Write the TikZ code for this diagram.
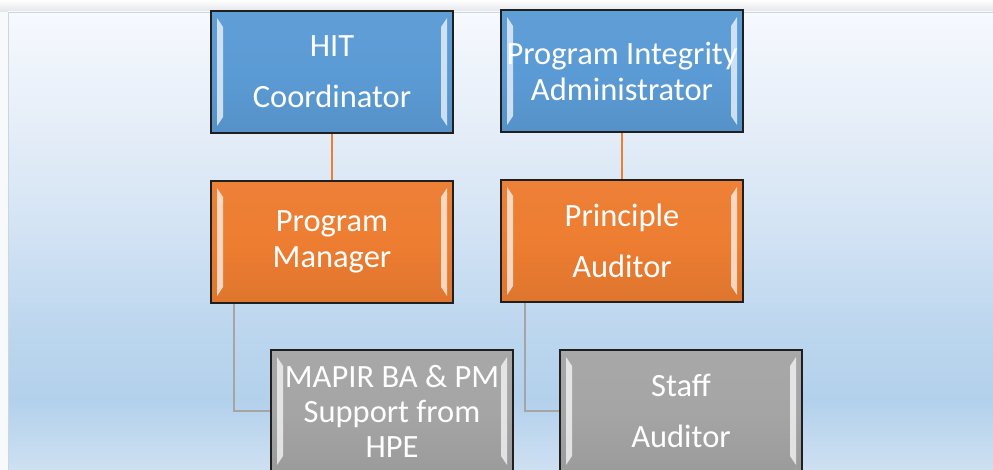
\documentclass[tikz,border=0pt]{standalone}
\usepackage{fontspec}
\setmainfont{Carlito}
\usetikzlibrary{calc}
\pgfdeclarelayer{back}
\pgfdeclarelayer{bg}
\pgfsetlayers{back,bg,main}
\definecolor{boxblue}{HTML}{5B9BD5}
\definecolor{boxorange}{HTML}{ED7D31}
\definecolor{boxgray}{HTML}{A5A5A5}
\definecolor{outerbg}{HTML}{F8F9FB}
\definecolor{shadowtop}{HTML}{E2E4E8}
\definecolor{panelborder}{HTML}{CDD5E0}
\definecolor{pA}{HTML}{F6F9FE}
\definecolor{pB}{HTML}{E6EEF8}
\definecolor{pC}{HTML}{D3E3F4}
\definecolor{pD}{HTML}{BCD6EE}
\definecolor{pE}{HTML}{B3D1EC}
\definecolor{pF}{HTML}{CEE0F1}
\tikzset{
  box/.style={rectangle, draw=black!88, line width=1.8pt,
    minimum width=242pt, minimum height=122pt, inner sep=0pt,
    text=white, align=center, font=\fontsize{32.5}{51}\selectfont,
    top color=#1!97!white, bottom color=#1!94!black, middle color=#1,
    path picture={
      \fill[white, fill opacity=0.7]
        ([xshift=6pt,yshift=-7pt]path picture bounding box.north west) -- ++(6pt,-9pt)
        -- ([xshift=12pt,yshift=16pt]path picture bounding box.south west) -- ++(-6pt,-9pt) -- cycle;
      \fill[white, fill opacity=0.7]
        ([xshift=-6pt,yshift=-7pt]path picture bounding box.north east) -- ++(-6pt,-9pt)
        -- ([xshift=-12pt,yshift=16pt]path picture bounding box.south east) -- ++(6pt,-9pt) -- cycle;
    }},
  tight/.style={font=\fontsize{32.5}{36}\selectfont},
  orangeline/.style={draw=boxorange, line width=2.8pt},
  grayline/.style={draw=boxgray, line width=2pt}
}
\begin{document}
\begin{tikzpicture}[x=1pt,y=-1pt]
\useasboundingbox (0,0) rectangle (993,470);
\begin{pgfonlayer}{back}
  \fill[outerbg] (0,0) rectangle (993,470);
  \shade[top color=white, bottom color=shadowtop] (0,0) rectangle (993,12);
  \shade[top color=pA, bottom color=pB] (8,12) rectangle (1000,121);
  \shade[top color=pB, bottom color=pC] (8,120) rectangle (1000,231);
  \shade[top color=pC, bottom color=pD] (8,230) rectangle (1000,331);
  \shade[top color=pD, bottom color=pE] (8,330) rectangle (1000,401);
  \shade[top color=pE, bottom color=pF] (8,400) rectangle (1000,470);
  \draw[line width=0.8pt, draw=panelborder] (8.4,480) -- (8.4,12.4) -- (1000,12.4);
\end{pgfonlayer}

\node[box=boxblue] (hit) at (332,72) {HIT\\Coordinator};
\node[box=boxblue, tight] (pia) at (622,71) {Program Integrity\\Administrator};
\node[box=boxorange, tight] (pm) at (332,242) {Program\\Manager};
\node[box=boxorange] (pa) at (622,241) {Principle\\Auditor};
\node[box=boxgray, font=\fontsize{32.5}{35}\selectfont] (mapir) at (392,411) {MAPIR BA \& PM\\Support from\\HPE};
\node[box=boxgray] (staff) at (681,411) {Staff\\Auditor};

\begin{pgfonlayer}{bg}
  \draw[orangeline] (hit.south) -- (pm.north);
  \draw[orangeline] (pia.south) -- (pa.north);
  \draw[grayline] ($(pm.south west)+(24,0)$) |- (mapir.west);
  \draw[grayline] ($(pa.south west)+(25,0)$) |- (staff.west);
\end{pgfonlayer}
\end{tikzpicture}
\end{document}
